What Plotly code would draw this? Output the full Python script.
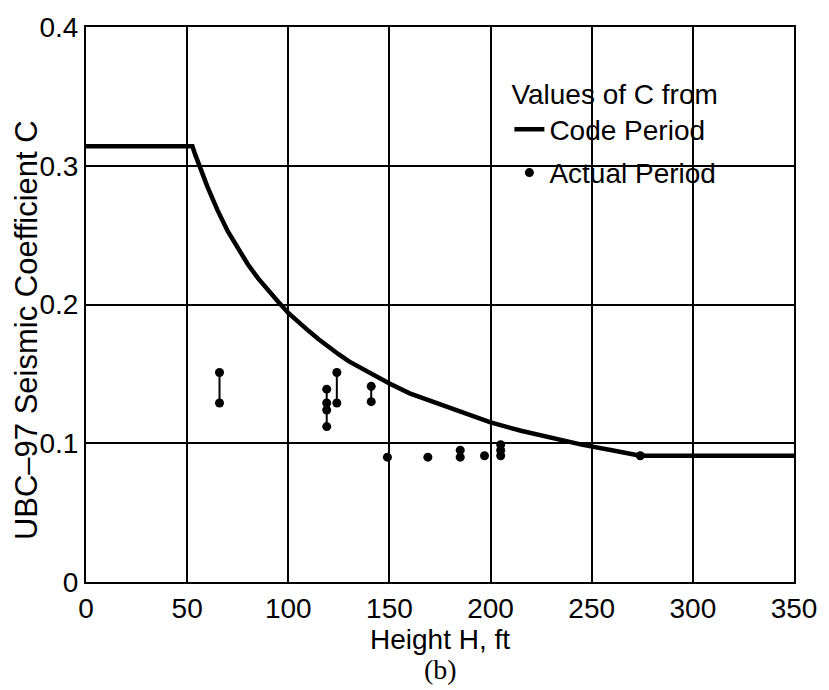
import plotly.graph_objects as go

# Code-period curve
code_h = [0, 52.6, 54, 57, 60, 65, 70, 75, 80, 85, 90, 95, 100, 105, 110, 115,
          120, 125, 130, 135, 140, 145, 150, 160, 175, 190, 200, 215, 230, 245,
          260, 274, 350]
code_c = [0.314, 0.314, 0.308, 0.296, 0.285, 0.268, 0.253, 0.241, 0.229, 0.219,
          0.210, 0.202, 0.194, 0.187, 0.181, 0.175, 0.169, 0.164, 0.159, 0.155,
          0.151, 0.147, 0.143, 0.136, 0.128, 0.120, 0.115, 0.109, 0.104, 0.099,
          0.095, 0.091, 0.091]

# Actual-period points
actual_h = [66, 66, 119, 119, 119, 119, 124, 124, 141, 141, 149, 169, 185, 185,
            197, 205, 205, 205, 274]
actual_c = [0.151, 0.129, 0.139, 0.129, 0.124, 0.112, 0.151, 0.129, 0.141, 0.130,
            0.090, 0.090, 0.095, 0.090, 0.091, 0.099, 0.095, 0.091, 0.091]

x_ticks = [0, 50, 100, 150, 200, 250, 300, 350]
y_ticks = [0, 0.1, 0.2, 0.3, 0.4]
y_tick_text = ["0", "0.1", "0.2", "0.3", "0.4"]

FONT = "Liberation Sans, Arial, sans-serif"
FS = 28

# build vertical connectors between points at the same height
groups = {}
for h, c in zip(actual_h, actual_c):
    groups.setdefault(h, []).append(c)
seg_x, seg_y = [], []
for h, cs in groups.items():
    if len(cs) > 1:
        seg_x += [h, h, None]
        seg_y += [min(cs), max(cs), None]

fig = go.Figure()
fig.add_trace(go.Scatter(x=code_h, y=code_c, mode="lines", name="Code Period",
                         line=dict(color="black", width=4.5), legendgroup="a"))
fig.add_trace(go.Scatter(x=seg_x, y=seg_y, mode="lines", showlegend=False,
                         line=dict(color="black", width=2), hoverinfo="skip"))
fig.add_trace(go.Scatter(x=actual_h, y=actual_c, mode="markers", name="Actual Period",
                         marker=dict(color="black", size=9), legendgroup="b"))

axis_common = dict(showgrid=True, gridcolor="black", gridwidth=1.5,
                   showline=True, linecolor="black", linewidth=2, mirror=True,
                   zeroline=False, ticks="",
                   tickfont=dict(family=FONT, size=FS, color="black"))

fig.update_layout(
    width=829, height=690, autosize=False,
    margin=dict(l=86, r=27, t=17, b=108),
    paper_bgcolor="white", plot_bgcolor="white",
    font=dict(family=FONT, size=FS, color="black"),
    xaxis=dict(range=[0, 350], tickvals=x_ticks, **axis_common,
               title=dict(text="Height H, ft", standoff=0,
                          font=dict(family=FONT, size=FS, color="black"))),
    yaxis=dict(range=[0, 0.4], tickvals=y_ticks, ticktext=y_tick_text, **axis_common),
    legend=dict(x=0.598, y=0.926, xanchor="left", yanchor="top",
                bgcolor="rgba(0,0,0,0)", borderwidth=0,
                title=dict(text="Values of C from", font=dict(family=FONT, size=FS)),
                font=dict(family=FONT, size=FS, color="black"),
                tracegroupgap=4, itemwidth=30),
    annotations=[
        dict(text="UBC\u201397 Seismic Coefficient C", textangle=-90,
             xref="paper", yref="paper", x=-0.084, y=0.453,
             xanchor="center", yanchor="middle", showarrow=False,
             font=dict(family=FONT, size=31, color="black")),
        dict(text="(b)", xref="paper", yref="paper", x=0.5, y=-0.157,
             xanchor="center", yanchor="middle", showarrow=False,
             font=dict(family="Liberation Serif, Times New Roman, serif",
                       size=FS, color="black")),
    ],
)

fig.write_html("out.html")
